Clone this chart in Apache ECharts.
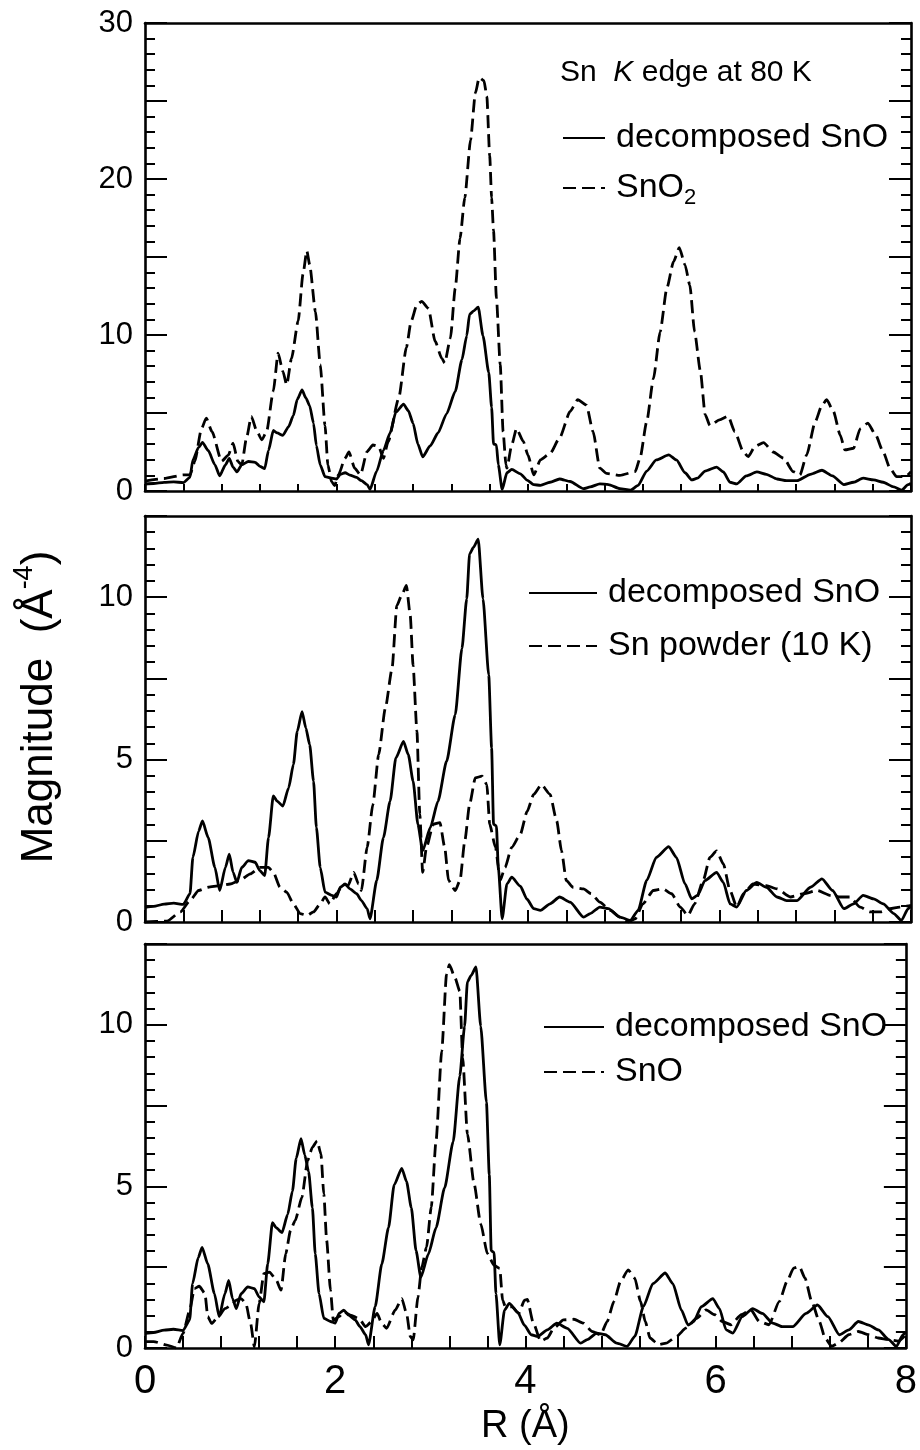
<!DOCTYPE html>
<html><head><meta charset="utf-8">
<script src="https://cdn.jsdelivr.net/npm/echarts@6/dist/echarts.min.js"></script>
<style>html,body{margin:0;padding:0;background:#fff}#c{width:920px;height:1450px}</style>
</head><body><div id="c"></div>
<script>
const FONT = '"Liberation Sans", Arial, Helvetica, sans-serif';

// decomposed SnO (same measurement drawn in all three panels)
const decomposedSnO = [[0,0.45],[0.09,0.48],[0.2,0.55],[0.30,0.58],[0.40,0.54],[0.47,0.87],[0.50,1.99],[0.56,2.8],[0.60,3.11],[0.66,2.6],[0.73,1.68],[0.78,0.97],[0.84,1.68],[0.88,2.09],[0.92,1.53],[0.96,1.22],[1.01,1.68],[1.08,1.89],[1.15,1.84],[1.20,1.58],[1.25,1.43],[1.29,2.6],[1.34,3.88],[1.38,3.72],[1.44,3.57],[1.50,4.13],[1.55,4.85],[1.59,5.87],[1.64,6.48],[1.68,5.97],[1.72,5.46],[1.76,4.34],[1.79,2.91],[1.83,1.68],[1.88,0.92],[1.95,0.82],[2.0,0.77],[2.04,1.07],[2.09,1.17],[2.14,1.02],[2.21,0.87],[2.26,0.66],[2.32,0.41],[2.35,0.1],[2.42,1.28],[2.49,2.6],[2.56,3.72],[2.62,5.05],[2.70,5.56],[2.75,5.15],[2.80,4.34],[2.85,3.01],[2.90,2.19],[2.98,2.91],[3.06,3.72],[3.15,4.95],[3.24,6.38],[3.31,8.42],[3.36,9.95],[3.39,11.33],[3.43,11.53],[3.48,11.79],[3.53,9.95],[3.59,7.6],[3.62,5.36],[3.64,3.01],[3.67,2.96],[3.69,1.68],[3.73,0.1],[3.78,1.17],[3.83,1.38],[3.92,1.1],[3.99,0.7],[4.06,0.41],[4.13,0.36],[4.23,0.56],[4.33,0.77],[4.44,0.61],[4.58,0.15],[4.65,0.26],[4.75,0.46],[4.84,0.41],[4.96,0.15],[5.07,0.05],[5.15,0.36],[5.24,1.28],[5.34,1.99],[5.47,2.32],[5.55,1.99],[5.64,1.17],[5.71,0.71],[5.77,0.82],[5.85,1.28],[5.97,1.53],[6.04,1.22],[6.11,0.56],[6.18,0.46],[6.28,0.97],[6.39,1.22],[6.49,1.07],[6.60,0.77],[6.70,0.66],[6.81,0.66],[6.95,1.07],[7.07,1.33],[7.18,0.97],[7.30,0.41],[7.40,0.56],[7.50,0.82],[7.61,0.71],[7.71,0.56],[7.82,0.26],[7.90,0.05],[7.97,0.41],[8.0,0.5]];

// SnO2 (top panel, dashed)
const snO2 = [[0,0.64],[0.2,0.8],[0.40,1.03],[0.47,1.03],[0.52,1.9],[0.59,4.0],[0.64,4.67],[0.70,3.8],[0.80,1.9],[0.87,2.3],[0.92,3.06],[0.97,1.9],[1.01,1.67],[1.06,3.4],[1.11,4.78],[1.17,3.8],[1.22,3.28],[1.27,3.8],[1.34,6.4],[1.39,8.84],[1.44,7.67],[1.48,6.8],[1.53,8.5],[1.60,10.9],[1.65,13.9],[1.69,15.4],[1.72,14.5],[1.78,11.5],[1.83,8.1],[1.88,4.2],[1.91,1.67],[1.95,0.6],[1.98,0.34],[2.02,1.03],[2.09,2.1],[2.13,2.5],[2.19,1.46],[2.25,1.03],[2.32,2.53],[2.38,2.95],[2.44,2.85],[2.49,2.1],[2.54,3.17],[2.65,5.95],[2.73,9.2],[2.78,10.9],[2.84,11.95],[2.89,12.16],[2.96,11.7],[3.03,9.6],[3.10,8.5],[3.13,8.2],[3.19,9.8],[3.24,13.0],[3.29,16.2],[3.34,18.8],[3.40,22.5],[3.45,25.5],[3.49,26.5],[3.54,26.3],[3.57,25.3],[3.60,21.5],[3.62,18.8],[3.64,16.7],[3.67,12.4],[3.71,8.1],[3.74,3.8],[3.77,1.67],[3.78,1.46],[3.83,2.95],[3.88,4.0],[3.95,3.2],[4.0,2.3],[4.06,1.03],[4.13,2.0],[4.23,2.4],[4.33,3.4],[4.44,5.1],[4.52,5.85],[4.61,5.5],[4.68,3.8],[4.75,1.46],[4.82,1.13],[4.96,1.0],[5.12,1.24],[5.17,2.1],[5.24,4.45],[5.31,7.2],[5.38,10.2],[5.45,13.0],[5.52,14.7],[5.58,15.6],[5.64,14.5],[5.69,13.2],[5.74,10.2],[5.80,7.7],[5.85,4.9],[5.90,4.2],[6.0,4.56],[6.09,4.8],[6.16,3.8],[6.25,2.5],[6.30,2.2],[6.37,2.85],[6.46,3.1],[6.56,2.5],[6.67,2.1],[6.77,1.24],[6.84,1.03],[6.91,2.3],[7.0,4.45],[7.07,5.5],[7.12,5.85],[7.19,5.1],[7.26,3.6],[7.31,2.63],[7.40,2.74],[7.47,4.0],[7.55,4.35],[7.63,3.6],[7.71,2.5],[7.78,1.46],[7.85,0.92],[7.94,0.92],[8.0,1.24]];

// Sn powder (10 K) (middle panel, dashed)
const snPowder10K = [[0,0],[0.23,0.03],[0.37,0.31],[0.47,0.66],[0.56,0.97],[0.66,1.07],[0.78,1.12],[0.89,1.17],[0.99,1.28],[1.10,1.48],[1.20,1.68],[1.29,1.68],[1.34,1.53],[1.41,1.07],[1.48,0.92],[1.55,0.56],[1.62,0.26],[1.69,0.2],[1.76,0.31],[1.83,0.56],[1.88,0.77],[1.93,0.56],[2.0,0.87],[2.07,1.17],[2.12,1.12],[2.18,1.53],[2.23,1.17],[2.26,0.97],[2.32,2.3],[2.38,3.62],[2.44,5.15],[2.51,6.58],[2.58,7.8],[2.63,9.74],[2.68,10.05],[2.73,10.36],[2.77,9.44],[2.80,7.9],[2.84,5.87],[2.87,3.32],[2.90,1.53],[2.94,2.3],[3.01,3.01],[3.08,3.06],[3.13,2.3],[3.17,1.28],[3.24,0.97],[3.29,1.28],[3.34,2.5],[3.39,3.62],[3.45,4.44],[3.52,4.49],[3.57,4.23],[3.60,3.01],[3.66,2.3],[3.71,1.28],[3.76,1.68],[3.83,2.3],[3.92,2.7],[3.99,3.4],[4.06,3.93],[4.14,4.23],[4.23,3.93],[4.30,3.11],[4.35,2.19],[4.40,1.28],[4.47,1.07],[4.58,1.02],[4.66,0.87],[4.75,0.61],[4.86,0.36],[4.96,0.15],[5.05,0],[5.12,0.1],[5.20,0.56],[5.31,0.97],[5.41,1.02],[5.50,0.87],[5.59,0.46],[5.67,0.2],[5.74,0.56],[5.83,1.28],[5.90,1.99],[5.97,2.19],[6.04,1.79],[6.11,0.97],[6.18,0.46],[6.25,0.87],[6.35,1.17],[6.49,1.12],[6.60,1.02],[6.74,0.77],[6.88,0.87],[7.02,0.97],[7.16,0.82],[7.26,0.77],[7.36,0.77],[7.47,0.46],[7.57,0.31],[7.68,0.31],[7.78,0.41],[7.88,0.46],[8.0,0.51]];

// SnO (bottom panel, dashed)
const snO = [[0,0.2],[0.09,0.2],[0.23,0.09],[0.33,0],[0.40,0.45],[0.47,1.17],[0.52,1.84],[0.57,1.91],[0.63,1.69],[0.66,0.97],[0.70,0.76],[0.77,0.97],[0.84,1.22],[0.91,1.33],[0.96,1.48],[1.01,1.53],[1.06,1.38],[1.11,0.76],[1.15,0.04],[1.20,1.38],[1.25,2.3],[1.31,2.35],[1.38,2.1],[1.43,1.79],[1.48,2.92],[1.53,3.64],[1.58,3.95],[1.65,4.67],[1.71,5.8],[1.76,6.21],[1.81,6.41],[1.85,6.0],[1.88,4.77],[1.91,3.33],[1.95,1.79],[1.98,0.86],[2.04,0.97],[2.09,1.12],[2.16,1.02],[2.25,0.91],[2.32,0.66],[2.38,0.81],[2.44,1.07],[2.49,0.76],[2.54,0.61],[2.63,1.17],[2.70,1.53],[2.75,1.07],[2.79,0.35],[2.82,0.25],[2.87,1.58],[2.91,2.5],[2.96,3.12],[3.01,4.36],[3.06,6.41],[3.12,9.19],[3.17,11.55],[3.20,11.86],[3.26,11.45],[3.31,11.04],[3.34,8.98],[3.39,6.62],[3.46,5.08],[3.53,3.84],[3.60,2.92],[3.67,2.56],[3.73,2.46],[3.76,1.48],[3.79,1.27],[3.86,1.27],[3.93,1.07],[3.99,1.48],[4.02,1.5],[4.08,0.8],[4.16,0.21],[4.23,0.31],[4.30,0.62],[4.40,0.87],[4.51,0.89],[4.61,0.77],[4.70,0.51],[4.79,0.41],[4.86,0.82],[4.93,1.44],[5.0,2.06],[5.08,2.42],[5.15,2.16],[5.21,1.44],[5.26,0.82],[5.31,0.31],[5.40,0.1],[5.48,0.15],[5.59,0.36],[5.69,0.62],[5.80,0.92],[5.90,1.18],[5.99,1.03],[6.07,0.82],[6.16,0.72],[6.27,1.03],[6.37,1.18],[6.46,0.82],[6.56,0.72],[6.67,1.44],[6.75,2.06],[6.82,2.47],[6.88,2.52],[6.94,2.16],[7.01,1.44],[7.09,0.82],[7.15,0.31],[7.22,0.05],[7.29,0.15],[7.40,0.41],[7.50,0.51],[7.61,0.41],[7.71,0.31],[7.82,0.26],[7.92,0.21],[8.0,0.41]];

const xTickLabels = [0, 2, 4, 6, 8];
const topYTickLabels = [0, 10, 20, 30];
const lowerYTickLabels = [0, 5, 10];

const isIn = (v, list) => list.some(t => Math.abs(t - v) < 1e-6);

const panels = [
  { top: 23, height: 468, max: 30, interval: 5, labels: topYTickLabels, xTickLen: 7,
    ref: snO2, refName: 'SnO2', lg: { left: 557, top: 113, itemWidth: 42, itemGap: 10 } },
  { top: 516, height: 406, max: 12.5, interval: 2.5, labels: lowerYTickLabels, xTickLen: 12,
    ref: snPowder10K, refName: 'Sn powder (10 K)', lg: { left: 523, top: 568, itemWidth: 68, itemGap: 13 } },
  { top: 944, height: 404, max: 12.5, interval: 2.5, labels: lowerYTickLabels, xTickLen: 12,
    ref: snO, refName: 'SnO', lg: { left: 538, top: 1002, itemWidth: 60, itemGap: 5 } }
];

const AX = { lineStyle: { color: '#000', width: 2.6 } };
const grid = [], xAxis = [], yAxis = [], series = [], legend = [];
const LW = 2.8;

panels.forEach((p, i) => {
  grid.push({ left: 145, right: 9, top: p.top, height: p.height, containLabel: false });
  const last = i === panels.length - 1;
  xAxis.push({
    type: 'value', gridIndex: i, min: 0, max: 8, interval: 0.4, position: 'bottom',
    axisLine: { show: true, onZero: false, ...AX },
    axisTick: { show: true, inside: true, length: p.xTickLen, lineStyle: { color: '#000', width: 2 } },
    splitLine: { show: false },
    axisLabel: { show: last, margin: 14, fontSize: 40, color: '#000', fontFamily: FONT,
      formatter: v => isIn(v, xTickLabels) ? String(Math.round(v)) : '' },
    name: last ? 'R (Å)' : '', nameLocation: 'middle', nameGap: 60,
    nameTextStyle: { fontSize: 38, color: '#000', fontFamily: FONT }
  });
  xAxis.push({
    type: 'value', gridIndex: i, min: 0, max: 8, position: 'top',
    axisLine: { show: true, onZero: false, ...AX },
    axisTick: { show: false }, axisLabel: { show: false }, splitLine: { show: false }
  });
  ['left', 'right'].forEach(pos => {
    yAxis.push({
      type: 'value', gridIndex: i, min: 0, max: p.max, interval: p.interval, position: pos,
      axisLine: { show: true, onZero: false, ...AX },
      axisTick: { show: true, inside: true, length: 22, lineStyle: { color: '#000', width: 2 } },
      minorTick: { show: true, splitNumber: 5, length: 10, lineStyle: { color: '#000', width: 2 } },
      splitLine: { show: false }, minorSplitLine: { show: false },
      axisLabel: { show: pos === 'left', margin: 12, fontSize: 31, color: '#000', fontFamily: FONT,
        formatter: v => isIn(v, p.labels) ? String(v) : '' }
    });
  });
  series.push({
    name: 'decomposed SnO', type: 'line', xAxisIndex: 2 * i, yAxisIndex: 2 * i,
    data: decomposedSnO, symbol: 'none', smooth: 0.2, smoothMonotone: 'x',
    lineStyle: { color: '#000', width: LW, type: 'solid' }, itemStyle: { color: '#000' }
  });
  series.push({
    name: p.refName, type: 'line', xAxisIndex: 2 * i, yAxisIndex: 2 * i,
    data: p.ref, symbol: 'none', smooth: 0.2, smoothMonotone: 'x',
    lineStyle: { color: '#000', width: LW, type: [13, 6] }, itemStyle: { color: '#000' }
  });
  legend.push({
    data: ['decomposed SnO', p.refName], orient: 'vertical', left: p.lg.left, top: p.lg.top,
    itemWidth: p.lg.itemWidth, itemHeight: 14, itemGap: p.lg.itemGap, selectedMode: false,
    itemStyle: { opacity: 0 },
    formatter: n => n === 'SnO2' ? '{m|SnO}{s|2}' : n,
    textStyle: { fontSize: 34, lineHeight: 40, color: '#000', fontFamily: FONT, padding: [0, 0, 0, 6],
      rich: { m: { fontSize: 34, color: '#000', fontFamily: FONT },
              s: { fontSize: 22, color: '#000', fontFamily: FONT, padding: [20, 0, 0, 0] } } }
  });
});

const chart = echarts.init(document.getElementById('c'), null, { renderer: 'canvas' });
chart.setOption({
  backgroundColor: '#fff',
  animation: false,
  textStyle: { fontFamily: FONT, color: '#000' },
  title: {
    left: 555, top: 53,
    text: '{a|Sn  }{k|K}{a| edge at 80 K}',
    textStyle: { fontSize: 30, fontWeight: 'normal', color: '#000', fontFamily: FONT, rich: {
      a: { fontSize: 30, fontWeight: 'normal', color: '#000', fontFamily: FONT },
      k: { fontSize: 30, fontWeight: 'normal', color: '#000', fontFamily: FONT, fontStyle: 'italic' } } }
  },
  grid, xAxis, yAxis, series, legend,
  graphic: [{
    type: 'text', x: 40, y: 707, rotation: Math.PI / 2,
    style: {
      text: '{a|Magnitude  (Å}{s|-4}{a|)}', align: 'center', verticalAlign: 'middle',
      rich: {
        a: { fontSize: 44, fill: '#000', fontFamily: FONT },
        s: { fontSize: 27, fill: '#000', fontFamily: FONT, padding: [0, 0, 30, 0] }
      }
    }
  }]
});
</script></body></html>
